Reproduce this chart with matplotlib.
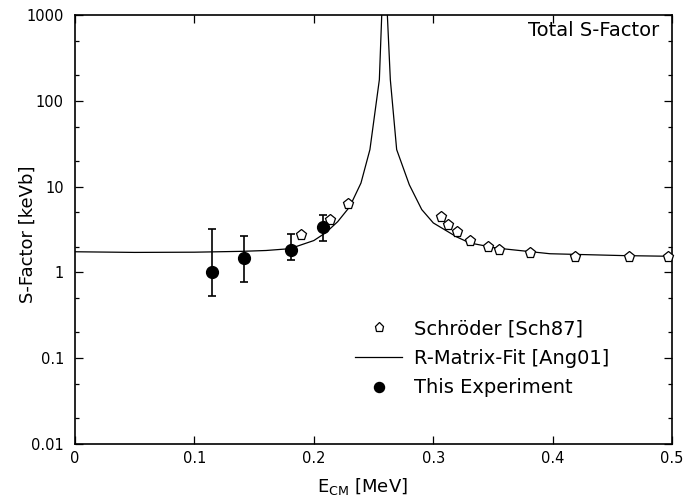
import matplotlib
matplotlib.use('Agg')
import matplotlib.pyplot as plt
from matplotlib.ticker import LogLocator, NullFormatter
import numpy as np

plt.rcParams['font.family'] = ['DejaVu Sans']

# R-Matrix fit
fit_E = [0.0, 0.05, 0.10, 0.14, 0.16, 0.18, 0.20, 0.21, 0.22, 0.23, 0.2395,
         0.247, 0.2549, 0.2569, 0.2592, 0.2616, 0.2641, 0.2694, 0.28, 0.2904,
         0.3001, 0.3197, 0.3308, 0.3532, 0.3978, 0.459, 0.5]
fit_S = [1.74, 1.71, 1.72, 1.76, 1.80, 1.89, 2.35, 2.9, 3.9, 5.8, 11,
         27, 176, 1000, 8000, 1000, 176, 27, 10.5, 5.4,
         3.77, 2.59, 2.2, 1.92, 1.65, 1.57, 1.54]

# Schroeder [Sch87]
sch_E = [0.1893, 0.2138, 0.2289, 0.3065, 0.3121, 0.3202, 0.3308, 0.3459,
         0.3549, 0.3811, 0.419, 0.4642, 0.4964]
sch_S = [2.70, 4.04, 6.27, 4.38, 3.53, 2.92, 2.30, 1.99,
         1.80, 1.68, 1.51, 1.51, 1.51]

# This experiment
exp_E = [0.1145, 0.1418, 0.1806, 0.2074]
exp_S = [1.00, 1.47, 1.84, 3.38]
exp_lo = [0.535, 0.765, 1.38, 2.30]
exp_hi = [3.2, 2.68, 2.83, 4.62]

fig = plt.figure(figsize=(6.99, 4.99), dpi=100)
ax = fig.add_axes([75/699, 1 - 444/499, (672-75)/699, (444-15)/499])

fit_line, = ax.plot(fit_E, fit_S, color='black', lw=0.9)
sch_pts, = ax.plot(sch_E, sch_S, linestyle='none', marker='p', ms=8, mfc='white',
                   mec='black', mew=0.9, clip_on=False, zorder=4)
yerr = [np.array(exp_S) - np.array(exp_lo), np.array(exp_hi) - np.array(exp_S)]
ax.errorbar(exp_E, exp_S, yerr=yerr, fmt='none', ecolor='black',
            elinewidth=1.2, capsize=3, capthick=1.2, zorder=5)
exp_pts, = ax.plot(exp_E, exp_S, linestyle='none', marker='o', ms=8.5,
                   color='black', zorder=6)

ax.set_yscale('log')
ax.set_xlim(0, 0.5)
ax.set_ylim(0.01, 1000)
ax.set_xticks([0, 0.1, 0.2, 0.3, 0.4, 0.5])
ax.set_xticklabels(['0', '0.1', '0.2', '0.3', '0.4', '0.5'])
ax.set_yticks([0.01, 0.1, 1, 10, 100, 1000])
ax.set_yticklabels(['0.01', '0.1', '1', '10', '100', '1000'])
ax.yaxis.set_minor_locator(LogLocator(base=10, subs=(2, 5)))
ax.yaxis.set_minor_formatter(NullFormatter())
ax.tick_params(which='both', direction='in', top=True, right=True, labelsize=10.5, width=0.9)
ax.tick_params(which='major', length=6)
ax.tick_params(which='minor', length=3)
ax.tick_params(axis='x', pad=5)
ax.tick_params(axis='y', pad=8)
for s in ax.spines.values():
    s.set_linewidth(1.2)

ax.set_ylabel('S-Factor [keVb]', fontsize=13)
ax.yaxis.set_label_coords(-0.064, 0.49)
ax.set_xlabel(r'E$_{\mathrm{CM}}$ [MeV]', fontsize=13)
ax.xaxis.set_label_coords(0.482, -0.075)
ax.text(0.978, 0.965, 'Total S-Factor', transform=ax.transAxes, ha='right', va='center', fontsize=14)

leg = ax.legend([sch_pts, fit_line, exp_pts],
                ['Schröder [Sch87]', 'R-Matrix-Fit [Ang01]', 'This Experiment'],
                loc='center left', bbox_to_anchor=(0.44, 0.2), frameon=False,
                fontsize=14, handlelength=2.4, handletextpad=0.65, labelspacing=0.55,
                markerscale=0.85, numpoints=1)

fig.savefig('out.png', dpi=100)
